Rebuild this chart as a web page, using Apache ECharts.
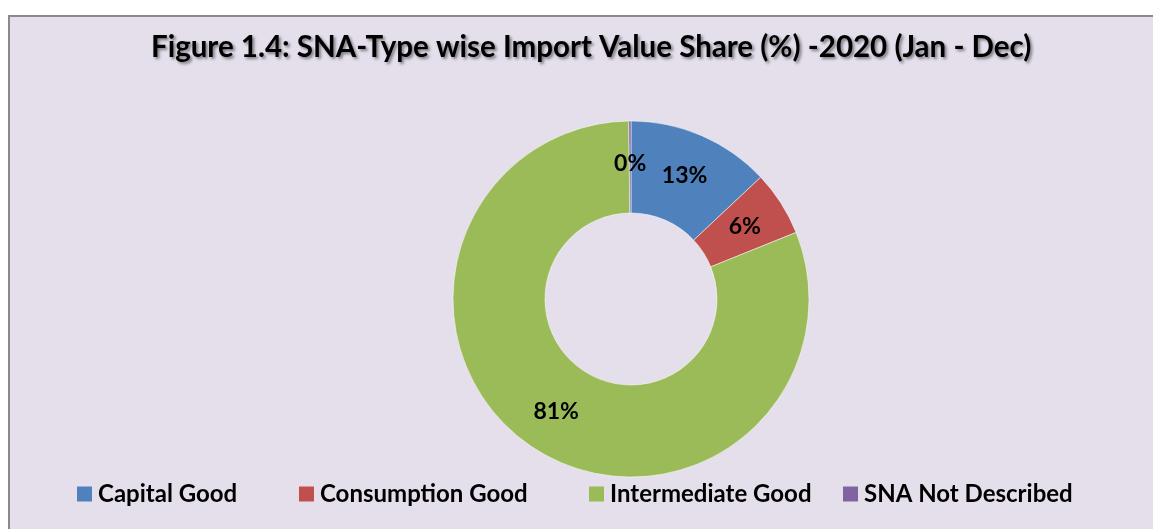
<!DOCTYPE html>
<html>
<head>
<meta charset="utf-8">
<script src="https://cdn.jsdelivr.net/npm/echarts@6/dist/echarts.min.js"></script>
<style>
  html, body { margin: 0; padding: 0; background: #fff; }
  #frame {
    position: absolute; left: 8px; top: 15px; width: 1160px; height: 530px;
    background: #e5dfec; border-top: 2px solid #8a8a8a; border-left: 2px solid #8a8a8a;
  }
  #main { position: absolute; left: 0; top: 0; width: 1153px; height: 529px; }
</style>
</head>
<body>
<div id="frame"></div>
<div id="main"></div>
<script>
  // SNA-type import value share, 2020
  var categories = ['Capital Good', 'Consumption Good', 'Intermediate Good', 'SNA Not Described'];
  var shares = [13.0, 5.9, 80.9, 0.2];
  var colors = ['#4f81bd', '#c0504d', '#9bbb59', '#8064a2'];

  var legendLeft = [72, 294, 584, 838];

  var myChart = echarts.init(document.getElementById('main'));

  var font = 'Lato, "Open Sans", sans-serif';

  myChart.setOption({
    animation: false,
    color: colors,
    title: {
      text: 'Figure 1.4: SNA-Type wise Import Value Share (%) -2020 (Jan - Dec)',
      left: 146,
      top: 27,
      textStyle: {
        fontFamily: font,
        fontSize: 29.5,
        fontWeight: 'bold',
        color: '#000',
        textShadowColor: 'rgba(0,0,0,0.45)',
        textShadowBlur: 3,
        textShadowOffsetX: 2,
        textShadowOffsetY: 2
      }
    },
    legend: categories.map(function (name, i) {
      return {
        data: [name],
        left: legendLeft[i],
        top: 477,
        icon: 'rect',
        itemWidth: 15,
        itemHeight: 15,
        itemGap: 0,
        itemStyle: { borderWidth: 0 },
        textStyle: { fontFamily: font, fontSize: 24, fontWeight: 'bold', color: '#000', padding: [0, 0, 0, 1] }
      };
    }),
    series: [{
      type: 'pie',
      center: [631, 299],
      radius: [86, 178],
      startAngle: 90,
      clockwise: true,
      itemStyle: { borderColor: '#ffffff', borderWidth: 0.5 },
      label: {
        show: true,
        position: 'inside',
        fontFamily: font,
        fontSize: 23,
        fontWeight: 'bold',
        color: '#000',
        formatter: function (p) { return Math.round(p.percent) + '%'; }
      },
      labelLine: { show: false },
      data: categories.map(function (name, i) {
        return { name: name, value: shares[i] };
      })
    }]
  });
</script>
</body>
</html>
